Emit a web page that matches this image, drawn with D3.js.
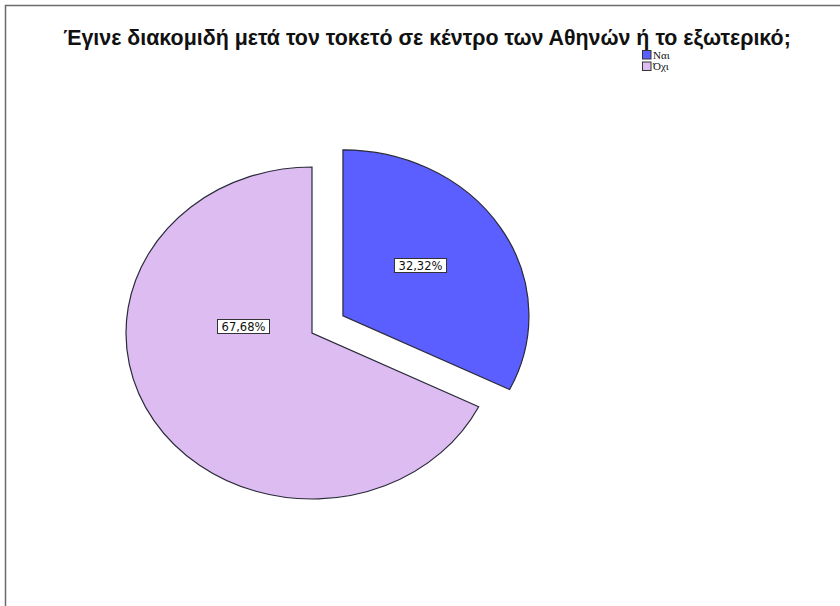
<!DOCTYPE html>
<html>
<head>
<meta charset="utf-8">
<script src="https://cdn.jsdelivr.net/npm/d3@7"></script>
<style>
  html, body { margin: 0; padding: 0; background: #fff; }
  svg { display: block; }
</style>
</head>
<body>
<svg id="chart" width="840" height="606"></svg>
<script>
// Response categories and their shares (percent)
const categories = ["Ναι", "Όχι"];
const shares = [32.32, 67.68];
const valueLabels = ["32,32%", "67,68%"];
const colors = ["#5b5fff", "#dcbcf1"];
const titleText = "Έγινε διακομιδή μετά τον τοκετό σε κέντρο των Αθηνών ή το εξωτερικό;";

const svg = d3.select("#chart");

// outer frame
svg.append("path")
  .attr("d", "M5.5,606 L5.5,5.5 L840,5.5")
  .attr("fill", "none")
  .attr("stroke", "#6a6a6a")
  .attr("stroke-width", 1.5);

// title
svg.append("text")
  .attr("x", 427)
  .attr("y", 45)
  .attr("text-anchor", "middle")
  .attr("font-family", "Liberation Sans, Arial, sans-serif")
  .attr("font-weight", "bold")
  .attr("font-size", 21.4)
  .attr("fill", "#111")
  .text(titleText);

// legend
const legend = svg.append("g").attr("transform", "translate(642,50)");
categories.forEach((c, i) => {
  const g = legend.append("g").attr("transform", `translate(0,${i * 11.5})`);
  g.append("rect")
    .attr("x", 0.5).attr("y", 0.5)
    .attr("width", 8.5).attr("height", 8.5)
    .attr("fill", colors[i])
    .attr("stroke", "#333").attr("stroke-width", 1);
  g.append("text")
    .attr("x", 11).attr("y", 8.5)
    .attr("font-family", "Liberation Serif, Times New Roman, serif")
    .attr("font-size", 11)
    .attr("fill", "#111")
    .text(c);
});

// pie: drawn as a circle, then stretched horizontally
const ry = 166, rx = 186;
const cx = 312, cy = 333;
const sx = rx / ry;
const explode = 32.5;

const pie = d3.pie().sort(null).value(d => d)(shares);
const arc = d3.arc().innerRadius(0).outerRadius(ry);

const pieG = svg.append("g").attr("transform", `translate(${cx},${cy}) scale(${sx},1)`);

pie.forEach((p, i) => {
  const mid = (p.startAngle + p.endAngle) / 2;
  const off = i === 0 ? explode : 0;
  const dx = Math.sin(mid) * off, dy = -Math.cos(mid) * off;
  pieG.append("path")
    .attr("d", arc(p))
    .attr("transform", `translate(${dx},${dy})`)
    .attr("fill", colors[i])
    .attr("stroke", "#2a2a3a")
    .attr("stroke-width", 1.2)
    .attr("vector-effect", "non-scaling-stroke");
});

// value labels: positioned by angle inside each slice
const labelSpots = [
  { frac: 0.464, r: 85 },
  { frac: 0.654, r: 62 }
];
pie.forEach((p, i) => {
  const mid = (p.startAngle + p.endAngle) / 2;
  const off = i === 0 ? explode : 0;
  const ox = Math.sin(mid) * off, oy = -Math.cos(mid) * off;
  const a = p.startAngle + labelSpots[i].frac * (p.endAngle - p.startAngle);
  const lx = cx + (ox + Math.sin(a) * labelSpots[i].r) * sx;
  const ly = cy + oy - Math.cos(a) * labelSpots[i].r;
  const g = svg.append("g").attr("transform", `translate(${Math.round(lx)},${Math.round(ly)})`);
  g.append("rect")
    .attr("x", -25.5).attr("y", -7.5)
    .attr("width", 52).attr("height", 14)
    .attr("fill", "#fff")
    .attr("stroke", "#333").attr("stroke-width", 1);
  g.append("text")
    .attr("x", 0.5).attr("y", 4)
    .attr("text-anchor", "middle")
    .attr("font-family", "DejaVu Sans, Verdana, sans-serif")
    .attr("font-size", 11.5)
    .attr("fill", "#111")
    .text(valueLabels[i]);
});
</script>
</body>
</html>
